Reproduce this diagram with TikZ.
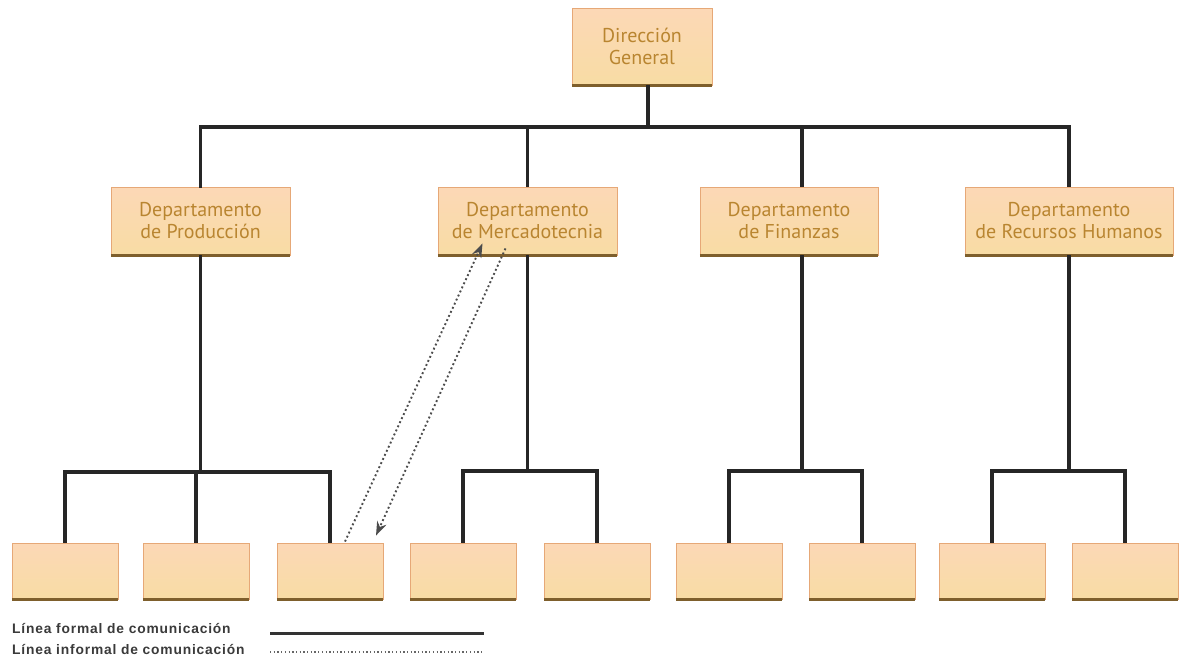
\documentclass[tikz,border=0pt]{standalone}
\usepackage{fontspec}
\setmainfont{PT Sans}
\newfontfamily\legendfont[LetterSpace=6]{Liberation Sans Bold}
\usetikzlibrary{calc,arrows.meta}
\definecolor{boxtop}{HTML}{FCD8B6}
\definecolor{boxbot}{HTML}{F8DCA4}
\definecolor{boxedge}{HTML}{E6A877}
\definecolor{boxshade}{HTML}{7E5F2C}
\definecolor{txt}{HTML}{B98530}
\definecolor{legtxt}{HTML}{3A3A3A}
\tikzset{
  box/.style={draw=boxedge, line width=0.9pt, top color=boxtop, bottom color=boxbot,
    inner sep=0pt, align=center, text=txt,
    font=\fontsize{20}{22}\selectfont},
  dept/.style={box, minimum width=179, minimum height=68},
  leaf/.style={box, minimum width=106, minimum height=56},
  shadeline/.style={draw=boxshade, line width=3pt},
  formal/.style={draw=black!85, line width=3.5pt},
  informal/.style={draw=black!70, line width=1.9pt, dash pattern=on 1.9pt off 2.6pt},
  legtext/.style={anchor=west, inner sep=0pt, text=legtxt, font=\legendfont\fontsize{13.8}{14}\selectfont},
}
\begin{document}
\begin{tikzpicture}[x=1pt,y=-1pt]
\useasboundingbox (0,0) rectangle (1183,656);
% nodes
\node[box, minimum width=140, minimum height=77] (dg) at (642,46.5) {Dirección\\General};
\node[dept] (prod) at (200.5,221) {Departamento\\de Producción};
\node[dept] (merc) at (527.5,221) {Departamento\\de Mercadotecnia};
\node[dept, minimum width=178] (fin) at (789,221) {Departamento\\de Finanzas};
\node[dept, minimum width=208] (rh) at (1069,221) {Departamento\\de Recursos Humanos};
\foreach \i/\x in {1/65,2/196,3/330,4/463,5/597,6/729,7/862,8/992,9/1125}
  \node[leaf] (b\i) at (\x,571) {};
\foreach \n in {dg,prod,merc,fin,rh,b1,b2,b3,b4,b5,b6,b7,b8,b9}
  \draw[shadeline] ([xshift=0.4pt]\n.south west) -- ([xshift=-0.4pt]\n.south east);
% bus coordinates
\coordinate (bus) at (0,127);
\coordinate (finx) at ($(fin.center)+(13,0)$);
% formal lines, level 1
\draw[formal] ([xshift=6]dg.south) -- ([xshift=6]dg.south |- bus);
\draw[formal, line cap=rect] (prod.north) -- (prod.north |- bus) -- (rh.north |- bus);
\draw[formal] (rh.north |- bus) -- (rh.north);
\draw[formal] (merc.north |- bus) -- (merc.north);
\draw[formal] (finx |- bus) -- (finx |- fin.north);
% level 2 to leaves
\draw[formal] (prod.south) -- (prod.south |- 0,472);
\draw[formal] (b1.north) |- (prod.south |- 0,472) -| (b3.north);
\draw[formal] (b2.north) -- (b2.north |- 0,472);
\draw[formal] (merc.south) -- (merc.south |- 0,471);
\draw[formal] (b4.north) |- (merc.south |- 0,471) -| (b5.north);
\draw[formal] (finx |- fin.south) -- (finx |- 0,471);
\draw[formal] (b6.north) |- (finx |- 0,471) -| (b7.north);
\draw[formal] (rh.south) -- (rh.south |- 0,471);
\draw[formal] (b8.north) |- (rh.south |- 0,471) -| (b9.north);
% informal lines
\draw[informal, -{Stealth[length=14pt,width=10pt]}] ($(b3.north)+(15,-1)$) -- ($(merc.south)+(-45,-12)$);
\draw[informal, -{Stealth[length=14pt,width=10pt]}] ($(merc.south)+(-22,-7)$) -- ($(b3.north)+(46,-7)$);
% legend
\node[legtext] (l1) at (12,628) {Línea formal de comunicación};
\node[legtext] (l2) at (12,649) {Línea informal de comunicación};
\coordinate (l1a) at (270,633);
\coordinate (l1b) at (484,633);
\coordinate (l2a) at (270,652);
\coordinate (l2b) at (484,652);
\draw[draw=black!80, line width=3pt] (l1a) -- (l1b);
\draw[draw=black!60, line width=1.3pt, dash pattern=on 1.3pt off 2.4pt] (l2a) -- (l2b);
\end{tikzpicture}
\end{document}
